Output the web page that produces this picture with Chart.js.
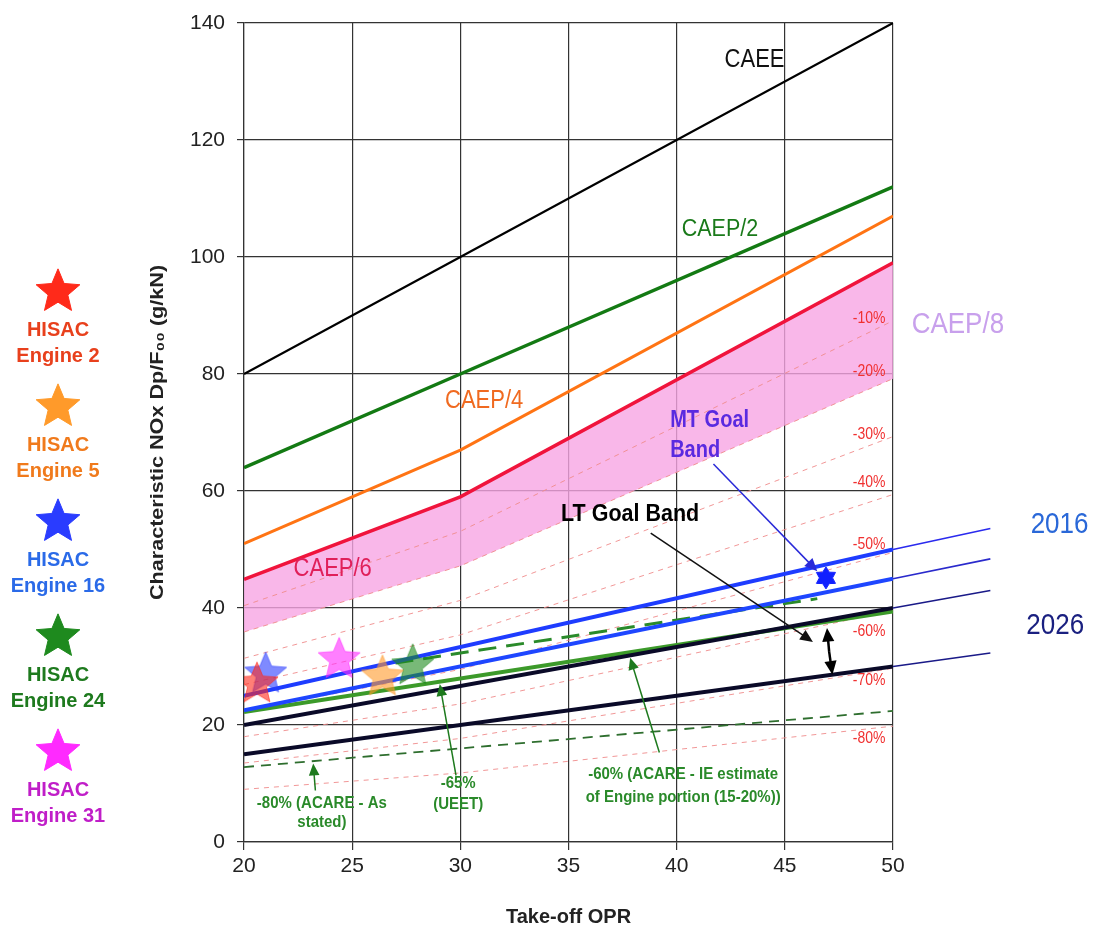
<!DOCTYPE html>
<html>
<head>
<meta charset="utf-8">
<script src="https://cdn.jsdelivr.net/npm/chart.js@4"></script>
<style>
  html, body { margin: 0; padding: 0; background: #fff; }
  #wrap { width: 1104px; height: 937px; }
</style>
</head>
<body>
<div id="wrap"><canvas id="noxChart" width="1104" height="937"></canvas></div>
<script>
// --- data ---
const oprX = [20, 30, 50];
const caee = [80, 100, 140];
const caep2 = [64, 80, 112];
const caep4 = [51, 67, 107];
const caep6 = [44.9, 59, 99];

// dashed reduction lines below CAEP/6
const pctNames = ['-10%', '-20%', '-30%', '-40%', '-50%', '-60%', '-70%', '-80%'];
const pctLines = [
  [40.4, 53.1, 89.1],
  [35.9, 47.2, 79.2],
  [31.4, 41.3, 69.3],
  [26.9, 35.4, 59.4],
  [22.4, 29.5, 49.5],
  [18.0, 23.6, 39.6],
  [13.5, 17.7, 29.7],
  [9.0, 11.8, 19.8]
];

// goal bands
const goalX = [20, 50];
const mtUpper = [25, 50];
const mtLower = [22.5, 45];
const ltUpper = [20, 40];
const ltLower = [15, 30];
const extX = [50, 54.5];
const mtUpperExt = [50, 53.6];
const mtLowerExt = [45, 48.4];
const ltUpperExt = [40, 43];
const ltLowerExt = [30, 32.3];

// ACARE / UEET targets
const ueet65 = [22.2, 39.4];
const acare60X = [27, 46.5];
const acare60 = [30.6, 41.6];
const acare80 = [12.8, 22.4];

// HISAC engines
const engineNames = ['Engine 2', 'Engine 5', 'Engine 16', 'Engine 24', 'Engine 31'];
const engineOpr = [20.6, 26.4, 21.0, 27.8, 24.4];
const engineNox = [27.3, 28.5, 29.0, 30.4, 31.5];
const engineColors = ['#ff2a1a', '#ff9a2a', '#2a3cff', '#1e8a1e', '#ff2aff'];
const engineTextColors = ['#e8401c', '#f07a1c', '#2a6ae8', '#1e7a1e', '#c01ec8'];

const mtMarkX = [46.9];
const mtMarkY = [45.3];

// -------------------------------------
const pts = (xs, ys) => xs.map((x, i) => ({ x: x, y: ys[i] }));

function starImg(color, r, alpha, n, inner) {
  const c = document.createElement('canvas');
  c.width = c.height = Math.ceil(2 * r + 4);
  const g = c.getContext('2d');
  const cx = c.width / 2, cy = c.height / 2 + r * 0.08;
  g.globalAlpha = alpha;
  g.beginPath();
  for (let i = 0; i < 2 * n; i++) {
    const a = -Math.PI / 2 + i * Math.PI / n;
    const rr = i % 2 ? r * inner : r;
    const px = cx + rr * Math.cos(a), py = cy + rr * Math.sin(a);
    i ? g.lineTo(px, py) : g.moveTo(px, py);
  }
  g.closePath();
  g.fillStyle = color;
  g.fill();
  g.lineWidth = 1;
  g.strokeStyle = color;
  g.stroke();
  return c;
}

function line(label, xs, ys, color, width, extra) {
  return Object.assign({
    label: label,
    data: pts(xs, ys),
    borderColor: color,
    backgroundColor: color,
    borderWidth: width,
    pointRadius: 0,
    fill: false,
    tension: 0,
    order: 3
  }, extra || {});
}

const datasets = [];

// engines on top
engineNames.forEach((name, i) => {
  datasets.push({
    label: 'HISAC ' + name,
    data: [{ x: engineOpr[i], y: engineNox[i] }],
    showLine: false,
    pointStyle: starImg(engineColors[i], 22, 0.6, 5, 0.45),
    pointRadius: 22,
    order: 0
  });
});
datasets.push({
  label: 'MT marker',
  data: pts(mtMarkX, mtMarkY),
  showLine: false,
  pointStyle: starImg('#1020ff', 11, 1, 6, 0.6),
  pointRadius: 11,
  order: 0
});

datasets.push(line('CAEE', oprX, caee, '#000000', 2.2, { order: 2 }));
datasets.push(line('CAEP/2', oprX, caep2, '#137a13', 3.5, { order: 2 }));
datasets.push(line('CAEP/4', oprX, caep4, '#ff7414', 3, { order: 2 }));
datasets.push(line('CAEP/6', oprX, caep6, '#f0143c', 3.5, { order: 2 }));

datasets.push(line('2016 upper', goalX, mtUpper, '#1e3cff', 4));
datasets.push(line('2016 lower', goalX, mtLower, '#1e46ff', 4));
datasets.push(line('UEET -65%', goalX, ueet65, '#3c9a2a', 4, { order: 4 }));
datasets.push(line('2026 upper', goalX, ltUpper, '#0a0a28', 4));
datasets.push(line('2026 lower', goalX, ltLower, '#0a0a28', 4));
datasets.push(line('2016 upper ext', extX, mtUpperExt, '#2a2aee', 1.6, { clip: false }));
datasets.push(line('2016 lower ext', extX, mtLowerExt, '#2a2acc', 1.6, { clip: false }));
datasets.push(line('2026 upper ext', extX, ltUpperExt, '#1a1a88', 1.6, { clip: false }));
datasets.push(line('2026 lower ext', extX, ltLowerExt, '#1a1a88', 1.6, { clip: false }));

datasets.push(line('ACARE -60%', acare60X, acare60, '#2a8a2a', 3, { borderDash: [18, 10], order: 4 }));
datasets.push(line('ACARE -80%', goalX, acare80, '#2e6e2e', 1.8, { borderDash: [10, 7], order: 4 }));

pctNames.forEach((name, i) => {
  datasets.push(line(name, oprX, pctLines[i], 'rgba(240,140,140,0.9)', 1, { borderDash: [5, 5], order: 8 }));
});

// CAEP/8 band: fill from CAEP/6 down to -20%
const bandIdx = datasets.length;
datasets.push(line('CAEP/8 band', oprX, caep6, 'rgba(0,0,0,0)', 0, {
  fill: { target: bandIdx + 1 },
  backgroundColor: 'rgba(248,165,228,0.8)',
  order: 9
}));
datasets.push(line('CAEP/8 low', oprX, pctLines[1], 'rgba(0,0,0,0)', 0, { order: 9 }));

// --- text + arrows drawn in data coordinates ---
const SANS = '"Liberation Sans", Arial, sans-serif';
const notes = [
  { t: 'CAEE', x: 43.6, y: 133.7, c: '#111', f: '22px ' + SANS },
  { t: 'CAEP/2', x: 42.0, y: 104.8, c: '#1a7a1a', f: '21.5px ' + SANS },
  { t: 'CAEP/4', x: 31.1, y: 75.4, c: '#f06a20', f: '22px ' + SANS },
  { t: 'CAEP/6', x: 24.1, y: 46.6, c: '#e0205a', f: '22px ' + SANS },
  { t: 'CAEP/8', x: 53.0, y: 88.5, c: '#c8a0ec', f: '26px ' + SANS },
  { t: 'MT Goal', x: 39.7, y: 72.0, c: '#5a2ae0', f: 'bold 20px ' + SANS, a: 'left' },
  { t: 'Band', x: 39.7, y: 66.9, c: '#5a2ae0', f: 'bold 20px ' + SANS, a: 'left' },
  { t: 'LT Goal Band', x: 37.85, y: 56.1, c: '#000', f: 'bold 21.5px ' + SANS },
  { t: '2016', x: 57.7, y: 54.2, c: '#2a68d8', f: '26px ' + SANS },
  { t: '2026', x: 57.5, y: 36.9, c: '#1a2080', f: '26px ' + SANS },
  { t: '-80% (ACARE - As', x: 23.6, y: 6.7, c: '#2a8a2a', f: 'bold 15px ' + SANS },
  { t: 'stated)', x: 23.6, y: 3.4, c: '#2a8a2a', f: 'bold 15px ' + SANS },
  { t: '-65%', x: 29.9, y: 10.1, c: '#2a8a2a', f: 'bold 15px ' + SANS },
  { t: '(UEET)', x: 29.9, y: 6.4, c: '#2a8a2a', f: 'bold 15px ' + SANS },
  { t: '-60% (ACARE - IE estimate', x: 40.3, y: 11.5, c: '#2a8a2a', f: 'bold 15px ' + SANS },
  { t: 'of Engine portion (15-20%))', x: 40.3, y: 7.6, c: '#2a8a2a', f: 'bold 15px ' + SANS }
];
const pctLabelY = [89.5, 80.4, 69.7, 61.5, 50.8, 36.0, 27.6, 17.7];

const arrows = [
  { from: [23.3, 8.8], to: [23.2, 13.4], c: '#1e7a1e', w: 1.5, h: 13 },
  { from: [29.8, 11.4], to: [29.05, 27.0], c: '#1e7a1e', w: 1.5, h: 13 },
  { from: [39.2, 15.3], to: [37.85, 31.5], c: '#1e7a1e', w: 1.5, h: 13 },
  { from: [41.7, 64.6], to: [46.5, 46.3], c: '#2a2ad8', w: 1.5, h: 14 },
  { from: [38.8, 52.8], to: [46.3, 34.2], c: '#111', w: 1.5, h: 14 },
  { from: [47.05, 32.5], to: [46.95, 36.6], c: '#000', w: 2.5, h: 15 },
  { from: [47.05, 32.5], to: [47.2, 28.6], c: '#000', w: 2.5, h: 15 }
];

// text with a slight vertical stretch, like the reference artwork
function stretchText(g, text, x, y, font, color, align, sy) {
  g.save();
  g.translate(x, y);
  g.scale(1, sy);
  g.font = font;
  g.fillStyle = color;
  g.textAlign = align;
  g.textBaseline = 'middle';
  g.fillText(text, 0, 0);
  g.restore();
}

function drawArrow(g, x1, y1, x2, y2, color, w, h) {
  const a = Math.atan2(y2 - y1, x2 - x1);
  g.save();
  g.strokeStyle = color;
  g.fillStyle = color;
  g.lineWidth = w;
  g.beginPath();
  g.moveTo(x1, y1);
  g.lineTo(x2 - Math.cos(a) * h * 0.8, y2 - Math.sin(a) * h * 0.8);
  g.stroke();
  g.beginPath();
  g.moveTo(x2, y2);
  g.lineTo(x2 - h * Math.cos(a - 0.42), y2 - h * Math.sin(a - 0.42));
  g.lineTo(x2 - h * Math.cos(a + 0.42), y2 - h * Math.sin(a + 0.42));
  g.closePath();
  g.fill();
  g.restore();
}

const annotate = {
  id: 'annotate',
  afterDraw(chart) {
    const g = chart.ctx;
    const xs = chart.scales.x, ys = chart.scales.y;
    notes.forEach(n => {
      stretchText(g, n.t, xs.getPixelForValue(n.x), ys.getPixelForValue(n.y), n.f, n.c, n.a || 'center', 1.15);
    });
    pctNames.forEach((name, i) => {
      stretchText(g, name, xs.getPixelForValue(48.9), ys.getPixelForValue(pctLabelY[i]),
        '14px ' + SANS, '#f03030', 'center', 1.15);
    });
    arrows.forEach(a => {
      drawArrow(g, xs.getPixelForValue(a.from[0]), ys.getPixelForValue(a.from[1]),
        xs.getPixelForValue(a.to[0]), ys.getPixelForValue(a.to[1]), a.c, a.w, a.h);
    });

    // y axis title, stretched along its length
    g.save();
    g.translate(158, (chart.chartArea.top + chart.chartArea.bottom) / 2);
    g.rotate(-Math.PI / 2);
    g.scale(1.2, 1);
    g.font = 'bold 18px ' + SANS;
    g.fillStyle = '#222';
    g.textAlign = 'center';
    g.textBaseline = 'middle';
    g.fillText('Characteristic NOx Dp/F\u2080\u2080 (g/kN)', 0, 0);
    g.restore();

    // engine key on the left
    engineNames.forEach((name, i) => {
      const cy = 290 + i * 115;
      const img = starImg(engineColors[i], 23, 1, 5, 0.45);
      g.drawImage(img, 58 - img.width / 2, cy - img.height / 2);
      g.save();
      g.font = 'bold 20px ' + SANS;
      g.fillStyle = engineTextColors[i];
      g.textAlign = 'center';
      g.textBaseline = 'middle';
      g.fillText('HISAC', 58, cy + 40);
      g.fillText(name, 58, cy + 66);
      g.restore();
    });
  }
};

new Chart(document.getElementById('noxChart'), {
  type: 'line',
  data: { datasets: datasets },
  options: {
    responsive: false,
    animation: false,
    layout: { padding: { left: 146, right: 211, top: 18, bottom: 0 } },
    plugins: {
      legend: { display: false },
      tooltip: { enabled: false }
    },
    scales: {
      x: {
        type: 'linear',
        min: 20,
        max: 50,
        ticks: { stepSize: 5, color: '#222', font: { family: SANS, size: 21 }, padding: 4 },
        grid: { color: '#333', lineWidth: 1.2, tickLength: 8 },
        border: { color: '#333', width: 1.2 },
        title: { display: true, text: 'Take-off OPR', color: '#222', font: { family: SANS, size: 20, weight: 'bold' }, padding: { top: 4, bottom: 8 } },
        afterFit(scale) { scale.height = 95; }
      },
      y: {
        min: 0,
        max: 140,
        ticks: { stepSize: 20, color: '#222', font: { family: SANS, size: 21, lineHeight: 0.8 }, padding: 12 },
        grid: { color: '#333', lineWidth: 1.2, tickLength: 7 },
        border: { color: '#333', width: 1.2 },
        title: { display: false },
        afterFit(scale) {
          scale.width = 98;
          scale.paddingTop = 0;
          scale.paddingBottom = 0;
        }
      }
    }
  },
  plugins: [annotate]
});
</script>
</body>
</html>
